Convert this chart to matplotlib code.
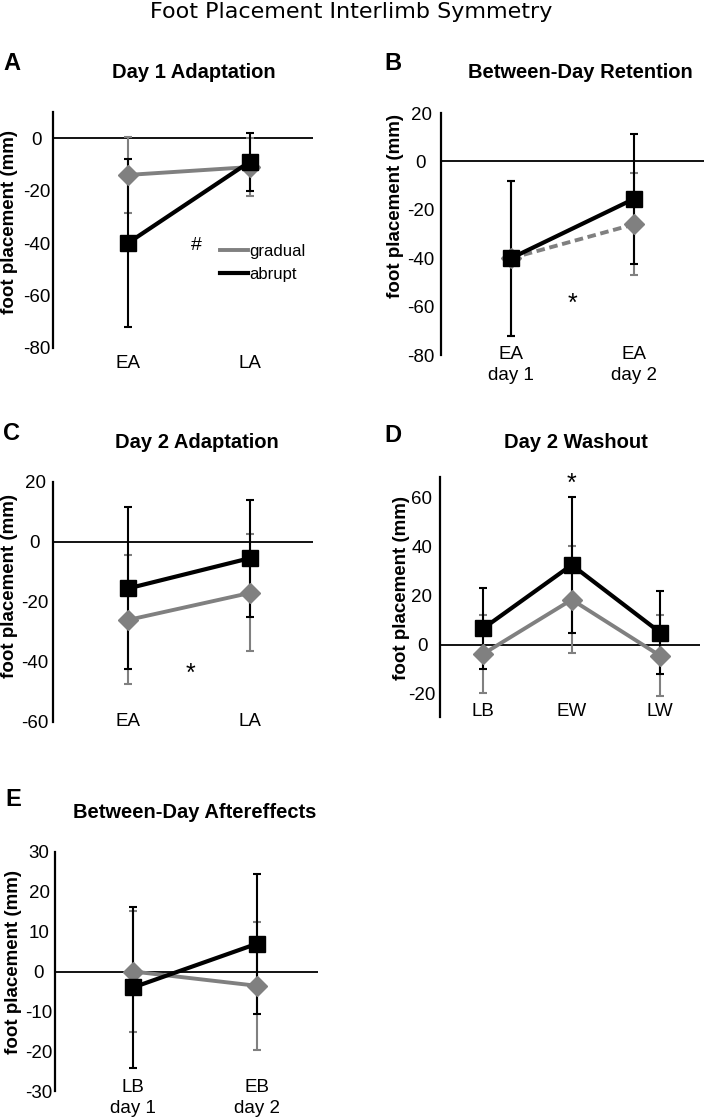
import matplotlib
matplotlib.use("Agg")
import matplotlib.pyplot as plt

plt.rcParams['font.family'] = ['Liberation Sans', 'DejaVu Sans']

# ---------------- data ----------------
A_cats = ['EA', 'LA']
A_grad = [-14, -11]
A_grad_err = [14.5, 11]
A_abr = [-40, -9]
A_abr_err = [32, 11]

B_cats = ['EA\nday 1', 'EA\nday 2']
B_grad = [-40, -26]
B_grad_err = [32, 21]
B_abr = [-40, -15.5]
B_abr_err = [32, 27]

C_cats = ['EA', 'LA']
C_grad = [-26, -17]
C_grad_err = [21.5, 19.5]
C_abr = [-15.5, -5.4]
C_abr_err = [27, 19.5]

D_cats = ['LB', 'EW', 'LW']
D_grad = [-3.7, 18.4, -4.5]
D_grad_err = [16, 21.8, 16.5]
D_abr = [6.7, 32.6, 5]
D_abr_err = [16.5, 27.7, 17]

E_cats = ['LB\nday 1', 'EB\nday 2']
E_grad = [0, -3.6]
E_grad_err = [15.2, 16]
E_abr = [-4, 7]
E_abr_err = [20.3, 17.6]

A_yticks = [-80, -60, -40, -20, 0]
B_yticks = [-80, -60, -40, -20, 0, 20]
C_yticks = [-60, -40, -20, 0, 20]
D_yticks = [-20, 0, 20, 40, 60]
E_yticks = [-30, -20, -10, 0, 10, 20, 30]

# ---------------- layout ----------------
W, H = 704, 1119
fig = plt.figure(figsize=(W / 100, H / 100), dpi=100)
GRAY = '#808080'


def fx(x):
    return x / W


def fy(y):
    return 1 - y / H


def make_axes(l, r, t, b):
    return fig.add_axes([fx(l), fy(b), (r - l) / W, (b - t) / H])


def panel(l, r, t, b, ylim, xlim, yticks, cats, grad, grad_err, abr, abr_err,
          cat_off, letter, letter_xy, title, title_xy, label_x_px, label_dy_px,
          tick_center_px, grad_ls='-'):
    ax = make_axes(l, r, t, b)
    x = list(range(len(cats)))
    ax.errorbar(x, grad, yerr=grad_err, fmt='none', ecolor=GRAY, elinewidth=1.5,
                capsize=3, capthick=1.5, zorder=2)
    ax.errorbar(x, abr, yerr=abr_err, fmt='none', ecolor='black', elinewidth=1.5,
                capsize=3, capthick=1.5, zorder=3)
    ax.plot(x, grad, color=GRAY, lw=2.8, ls=grad_ls, marker='D', ms=10,
            mfc=GRAY, mec=GRAY, zorder=4, label='gradual')
    ax.plot(x, abr, color='black', lw=3, marker='s', ms=11.5,
            mfc='black', mec='black', zorder=5, label='abrupt')
    ax.axhline(0, color='black', lw=1.3, zorder=1)
    ax.set_ylim(*ylim)
    ax.set_xlim(*xlim)
    ax.set_yticks(yticks)
    ax.set_yticklabels([str(v) for v in yticks], ha='center')
    ax.set_xticks([])
    ax.tick_params(axis='y', length=0, pad=tick_center_px * 0.72, labelsize=13.5)
    for s in ['top', 'right', 'bottom']:
        ax.spines[s].set_visible(False)
    ax.spines['left'].set_linewidth(1.6)
    ax.patch.set_alpha(0)
    for i, c in enumerate(cats):
        ax.annotate(c, xy=(i, 0), xycoords=('data', 'axes fraction'),
                    xytext=(0, cat_off * 0.72), textcoords='offset points',
                    ha='center', va='center', fontsize=13.5, linespacing=1.3)
    ax.set_ylabel('foot placement (mm)', fontsize=13.5, fontweight='bold')
    ax.yaxis.set_label_coords(-label_x_px / (r - l), 0.5 + label_dy_px / (b - t))
    fig.text(fx(letter_xy[0]), fy(letter_xy[1]), letter, fontsize=17,
             fontweight='bold', ha='center', va='center')
    fig.text(fx(title_xy[0]), fy(title_xy[1]), title, fontsize=14.5,
             fontweight='bold', ha='center', va='center')
    return ax


axA = panel(53, 313, 112, 348, (-80, 10), (-0.615, 1.52), A_yticks, A_cats,
            A_grad, A_grad_err, A_abr, A_abr_err, -15, 'A', (12, 64),
            'Day 1 Adaptation', (194, 73), 35, 8, 16)
axA.text(0.56, -41, '#', fontsize=14, ha='center', va='center')
axA.legend(loc='upper left', bbox_to_anchor=(fx(220), fy(244)),
           bbox_transform=fig.transFigure, frameon=False, fontsize=12,
           handlelength=1.7, handletextpad=0.05, labelspacing=0.45,
           borderpad=0, borderaxespad=0)
leg = axA.get_legend()
for h in leg.legend_handles:
    h.set_marker('')
    h.set_linestyle('-')

axB = panel(441, 704, 113, 355, (-80, 20), (-0.57, 1.57), B_yticks, B_cats,
            B_grad, B_grad_err, B_abr, B_abr_err, -10, 'B', (393, 64),
            'Between-Day Retention', (580, 73), 37, 28, 20,
            grad_ls=(0, (2.2, 1.2)))
axB.text(0.5, -59, '*', fontsize=18, ha='center', va='center')

axC = panel(53, 313, 482, 722, (-60, 20), (-0.615, 1.52), C_yticks, C_cats,
            C_grad, C_grad_err, C_abr, C_abr_err, 0, 'C', (12, 434),
            'Day 2 Adaptation', (197, 443), 34.5, 16, 18)
axC.text(0.51, -44, '*', fontsize=18, ha='center', va='center')

axD = panel(440, 700, 477, 717, (-29.5, 68.5), (-0.49, 2.45), D_yticks, D_cats,
            D_grad, D_grad_err, D_abr, D_abr_err, 5, 'D', (393, 435),
            'Day 2 Washout', (576, 443), 29.5, 9, 18)
axD.text(1, 65.5, '*', fontsize=18, ha='center', va='center')

axE = panel(55, 318, 852, 1091, (-30, 30), (-0.63, 1.49), E_yticks, E_cats,
            E_grad, E_grad_err, E_abr, E_abr_err, -7, 'E', (13, 800),
            'Between-Day Aftereffects', (195, 813), 32.5, 9, 16)

fig.text(fx(351), fy(12), 'Foot Placement Interlimb Symmetry', fontsize=16,
         ha='center', va='center', family=['DejaVu Sans'])

fig.savefig('out.png', dpi=100)
